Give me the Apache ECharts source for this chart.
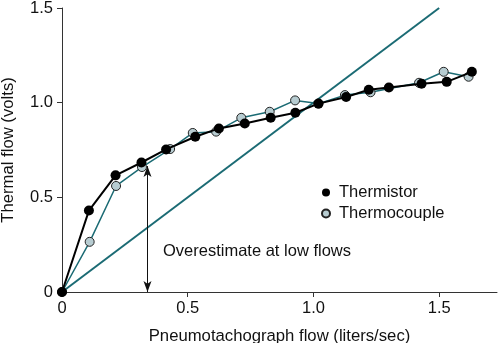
<!DOCTYPE html>
<html><head><meta charset="utf-8">
<script src="https://cdn.jsdelivr.net/npm/echarts@6/dist/echarts.min.js"></script>
<style>html,body{margin:0;padding:0;background:#fff}#c{width:499px;height:343px}</style>
</head><body><div id="c"></div>
<script>
var thermistorX = [0, 0.107, 0.213, 0.316, 0.414, 0.53, 0.624, 0.727, 0.83, 0.928, 1.02, 1.13, 1.22, 1.30, 1.43, 1.53, 1.63];
var thermistorY = [0, 0.43, 0.616, 0.684, 0.753, 0.82, 0.864, 0.89, 0.92, 0.947, 0.995, 1.03, 1.068, 1.08, 1.10, 1.11, 1.163];
var thermocoupleX = [0, 0.11, 0.215, 0.318, 0.43, 0.52, 0.613, 0.713, 0.826, 0.927, 1.02, 1.125, 1.227, 1.42, 1.518, 1.617];
var thermocoupleY = [0, 0.265, 0.56, 0.66, 0.755, 0.84, 0.847, 0.92, 0.952, 1.012, 0.995, 1.04, 1.055, 1.105, 1.163, 1.137];
var identityX = [0, 1.5];
var identityY = [0, 1.5];
var arrowX = 0.34;
var arrowY = [0, 0.665];
var xTickLabels = {0: '0', 0.5: '0.5', 1: '1.0', 1.5: '1.5'};
var yTickLabels = {0: '0', 0.5: '0.5', 1: '1.0', 1.5: '1.5'};

function pairs(xs, ys) { return xs.map(function (x, i) { return [x, ys[i]]; }); }

var FONT = 'Liberation Sans, Arial, Helvetica, sans-serif';
var TEAL = '#1b6b74';
var chart = echarts.init(document.getElementById('c'), null, {renderer: 'canvas'});
chart.setOption({
  animation: false,
  textStyle: {fontFamily: FONT},
  grid: {left: 62, top: 8, right: 2, bottom: 51, containLabel: false, outerBoundsMode: 'none'},
  xAxis: {
    type: 'value', min: 0, max: 1.73, interval: 0.5,
    axisLine: {lineStyle: {color: '#333', width: 1}},
    axisTick: {length: 5, lineStyle: {color: '#333'}},
    splitLine: {show: false},
    axisLabel: {color: '#111', fontSize: 16.5, fontFamily: FONT, margin: 8, showMaxLabel: false,
      formatter: function (v) { return xTickLabels[v] !== undefined ? xTickLabels[v] : ''; }},
    name: 'Pneumotachograph flow (liters/sec)', nameLocation: 'middle', nameGap: 36,
    nameTextStyle: {color: '#111', fontSize: 16.7, fontFamily: FONT}
  },
  yAxis: {
    type: 'value', min: 0, max: 1.5, interval: 0.5,
    axisLine: {show: true, lineStyle: {color: '#333', width: 1}},
    axisTick: {show: true, length: 5, lineStyle: {color: '#333'}},
    splitLine: {show: false},
    axisLabel: {color: '#111', fontSize: 16.5, fontFamily: FONT, margin: 9,
      formatter: function (v) { return yTickLabels[v] !== undefined ? yTickLabels[v] : ''; }},
    name: 'Thermal flow (volts)', nameLocation: 'middle', nameGap: 45, nameRotate: 90,
    nameTextStyle: {color: '#111', fontSize: 16.7, fontFamily: FONT}
  },
  legend: {
    orient: 'vertical', left: 316, top: 179, itemWidth: 8, itemHeight: 8, itemGap: 4,
    icon: 'circle',
    textStyle: {color: '#111', fontSize: 16.5, fontFamily: FONT, padding: [0, 0, 0, 4]},
    data: ['Thermistor', 'Thermocouple']
  },
  series: [
    {
      name: 'identity', type: 'line', data: pairs(identityX, identityY), showSymbol: false, symbol: 'none',
      lineStyle: {color: TEAL, width: 2}, z: 1, silent: true
    },
    {
      name: 'arrow', type: 'line', data: [], symbol: 'none', z: 2,
      markLine: {
        silent: true, symbol: ['arrow', 'arrow'], symbolSize: [6, 11],
        lineStyle: {color: '#111', width: 1, type: 'solid'}, label: {show: false},
        data: [[{coord: [arrowX, arrowY[0]]}, {coord: [arrowX, arrowY[1]]}]]
      }
    },
    {
      name: 'Thermocouple', type: 'line', data: pairs(thermocoupleX, thermocoupleY),
      symbol: 'circle', symbolSize: 9,
      lineStyle: {color: TEAL, width: 1.5},
      itemStyle: {color: '#b7ccd1', borderColor: '#222', borderWidth: 1}, z: 3
    },
    {
      name: 'Thermistor', type: 'line', data: pairs(thermistorX, thermistorY),
      symbol: 'circle', symbolSize: 10,
      lineStyle: {color: '#000', width: 2},
      itemStyle: {color: '#000', borderColor: '#000', borderWidth: 0}, z: 4
    }
  ],
  graphic: [{
    type: 'text', left: 163, top: 243,
    style: {text: 'Overestimate at low flows', fill: '#111', font: '16.5px ' + FONT}
  }]
});
</script></body></html>
